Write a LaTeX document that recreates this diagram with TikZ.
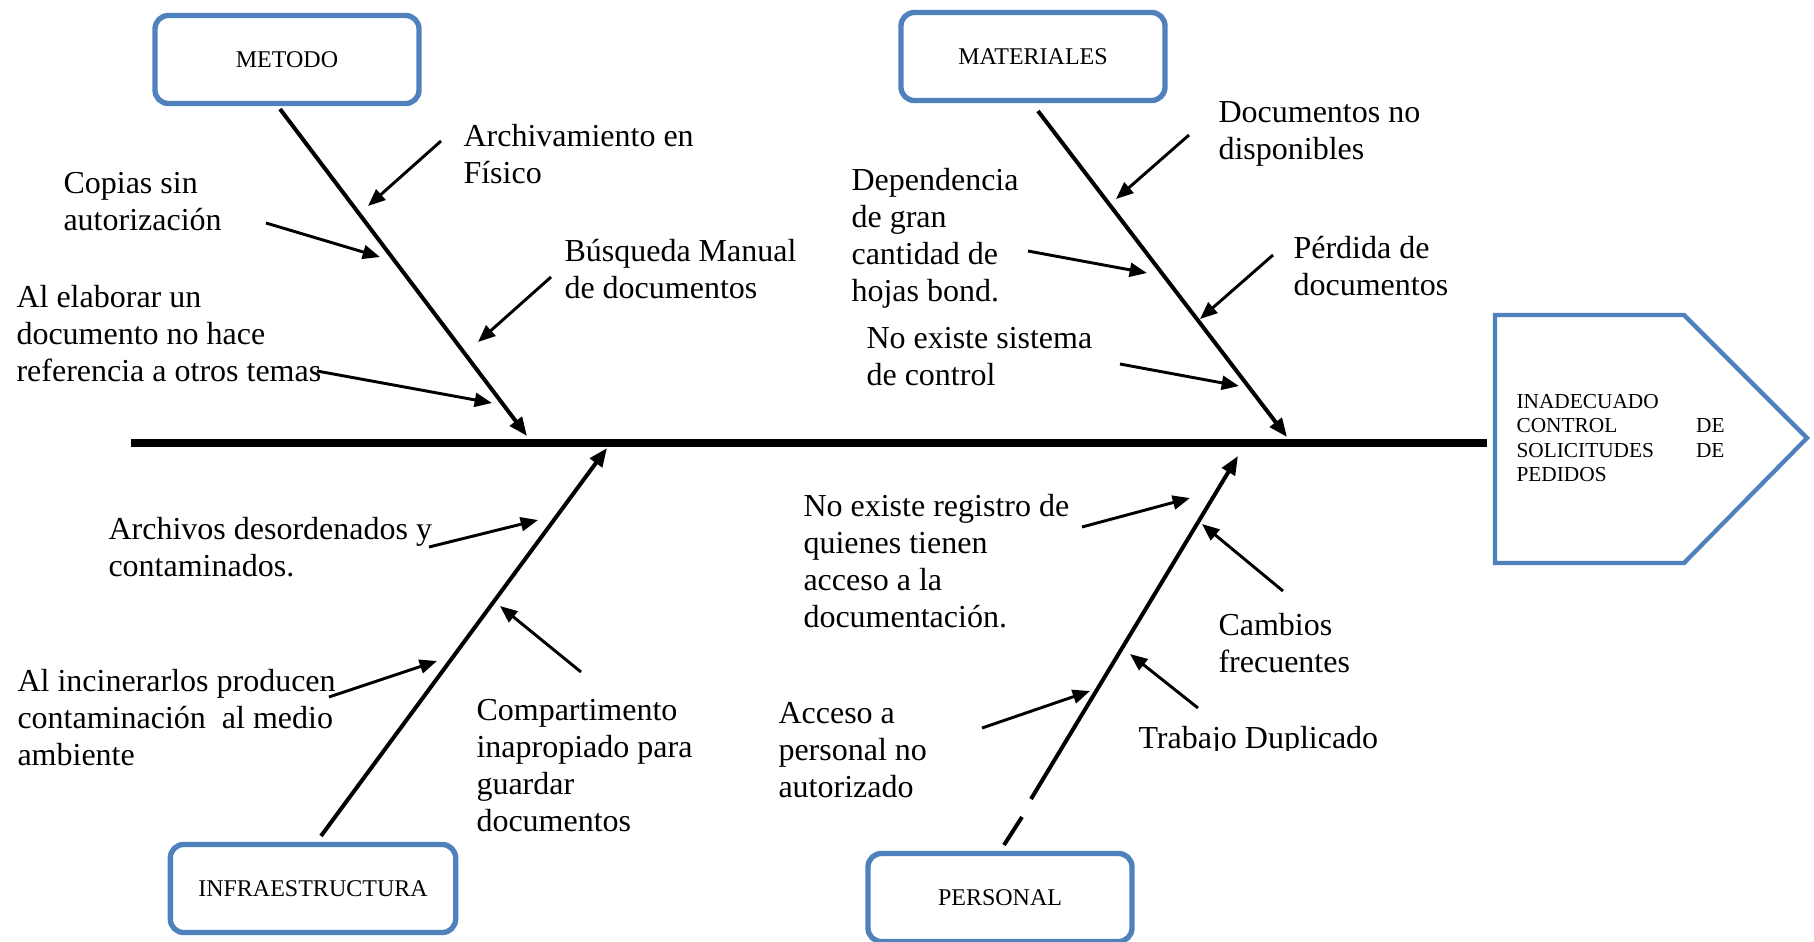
\documentclass[tikz,border=0pt]{standalone}
\usepackage{fontspec}
\setmainfont{Liberation Serif}
\usetikzlibrary{arrows.meta}
\definecolor{boxblue}{RGB}{79,129,189}
\begin{document}
\begin{tikzpicture}[x=0.375pt,y=-0.375pt,
  cat/.style={draw=boxblue, line width=2pt, rounded corners=5pt, inner sep=0pt,
    minimum width=99pt, minimum height=33pt, font=\fontsize{9}{10.35}\selectfont},
  % anchor = baseline of the LAST line of the text
  lbl/.style={anchor=base west, inner sep=0pt, align=left, font=\fontsize{12}{13.8}\selectfont},
  bone/.style={line width=1.5pt, -{Triangle[length=7pt,width=5.5pt]}},
  cause/.style={line width=1.1pt, -{Triangle[length=6.5pt,width=5.2pt]}},
  spine/.style={line width=3pt},
  effect/.style={draw=boxblue, line width=1.6pt, line join=miter},
]
\useasboundingbox (0,0) rectangle (1814,941);

% ---- category boxes
\node[cat] (metodo) at (287,59.5) {METODO};
\node[cat] (materiales) at (1033,56.5) {MATERIALES};
\node[cat, minimum width=107pt] (infra) at (313,888.5) {INFRAESTRUCTURA};
\node[cat] (personal) at (1000,897.5) {PERSONAL};

% ---- effect (head)
\draw[effect] (1495,315) -- (1684,315) -- (1807,438) -- (1684,563) -- (1495,563) -- cycle;
\node[anchor=base west, inner sep=0pt, text width=78pt, align=left,
  font=\fontsize{8}{9.2}\selectfont] (head) at (1516,408)
  {INADECUADO\\CONTROL\hfill DE\\SOLICITUDES\hfill DE\\PEDIDOS};

% ---- spine
\coordinate (spL) at (131,443);
\coordinate (spR) at (1487,443);
\draw[spine] (spL) -- (spR);

% ---- bone coordinates
\coordinate (mS) at (280,109);  \coordinate (mE) at (527,436);
\coordinate (tS) at (1038,111); \coordinate (tE) at (1287,437);
\coordinate (iS) at (321,836);  \coordinate (iE) at (607,448);
\coordinate (pS) at (1004,845); \coordinate (pG1) at (1022,817);
\coordinate (pG2) at (1031,799); \coordinate (pE) at (1238,456);

\draw[bone] (mS) -- (mE);
\draw[bone] (tS) -- (tE);
\draw[bone] (iS) -- (iE);
\draw[line width=1.5pt] (pS) -- (pG1);
\draw[bone] (pG2) -- (pE);

% ---- METODO causes
\node[lbl] (archiv) at (463,183) {Archivamiento en\\Físico};
\node[lbl] (copias) at (63,230) {Copias sin\\autorización};
\node[lbl] (busq) at (564,298) {Búsqueda Manual\\de documentos};
\node[lbl] (alelab) at (16,381) {Al elaborar un\\documento no hace\\referencia a otros temas};
\coordinate (a1s) at (441,141); \coordinate (a1e) at (368,206);
\coordinate (a2s) at (266,223); \coordinate (a2e) at (380,257);
\coordinate (a3s) at (551,277); \coordinate (a3e) at (478,342);
\coordinate (a4s) at (317,371); \coordinate (a4e) at (492,403);
\draw[cause] (a1s) -- (a1e);
\draw[cause] (a2s) -- (a2e);
\draw[cause] (a3s) -- (a3e);
\draw[cause] (a4s) -- (a4e);

% ---- MATERIALES causes
\node[lbl] (docs) at (1218,159) {Documentos no\\disponibles};
\node[lbl] (depend) at (851,301) {Dependencia\\de gran\\cantidad de\\hojas bond.};
\node[lbl] (perdida) at (1293,295) {Pérdida de\\documentos};
\node[lbl] (nosist) at (866,385) {No existe sistema\\de control};
\coordinate (b1s) at (1189,135); \coordinate (b1e) at (1116,199);
\coordinate (b2s) at (1028,251); \coordinate (b2e) at (1147,273);
\coordinate (b3s) at (1273,255); \coordinate (b3e) at (1200,319);
\coordinate (b4s) at (1120,364); \coordinate (b4e) at (1239,386);
\draw[cause] (b1s) -- (b1e);
\draw[cause] (b2s) -- (b2e);
\draw[cause] (b3s) -- (b3e);
\draw[cause] (b4s) -- (b4e);

% ---- INFRAESTRUCTURA causes
\node[lbl] (archdes) at (108,576) {Archivos desordenados y\\contaminados.};
\node[lbl] (alinc) at (17,765) {Al incinerarlos producen\\contaminación\ \ al medio\\ambiente};
\node[lbl] (compart) at (476,831) {Compartimento\\inapropiado para\\guardar\\documentos};
\coordinate (c1s) at (429,547); \coordinate (c1e) at (538,520);
\coordinate (c2s) at (329,697); \coordinate (c2e) at (437,661);
\coordinate (c3s) at (581,672); \coordinate (c3e) at (500,606);
\draw[cause] (c1s) -- (c1e);
\draw[cause] (c2s) -- (c2e);
\draw[cause] (c3s) -- (c3e);

% ---- PERSONAL causes
\node[lbl] (noreg) at (803,627) {No existe registro de\\quienes tienen\\acceso a la\\documentación.};
\node[lbl] (cambios) at (1218,672) {Cambios\\frecuentes};
\node[lbl] (acceso) at (778,797) {Acceso a\\personal no\\autorizado};
\begin{scope}
  \clip (1130,700) rectangle (1400,750);
  \node[lbl] (trabajo) at (1138,748) {Trabajo Duplicado};
\end{scope}
\coordinate (d1s) at (1082,527); \coordinate (d1e) at (1190,498);
\coordinate (d2s) at (1283,591); \coordinate (d2e) at (1202,524);
\coordinate (d3s) at (982,728);  \coordinate (d3e) at (1090,691);
\coordinate (d4s) at (1198,708); \coordinate (d4e) at (1130,654);
\draw[cause] (d1s) -- (d1e);
\draw[cause] (d2s) -- (d2e);
\draw[cause] (d3s) -- (d3e);
\draw[cause] (d4s) -- (d4e);
\end{tikzpicture}
\end{document}
